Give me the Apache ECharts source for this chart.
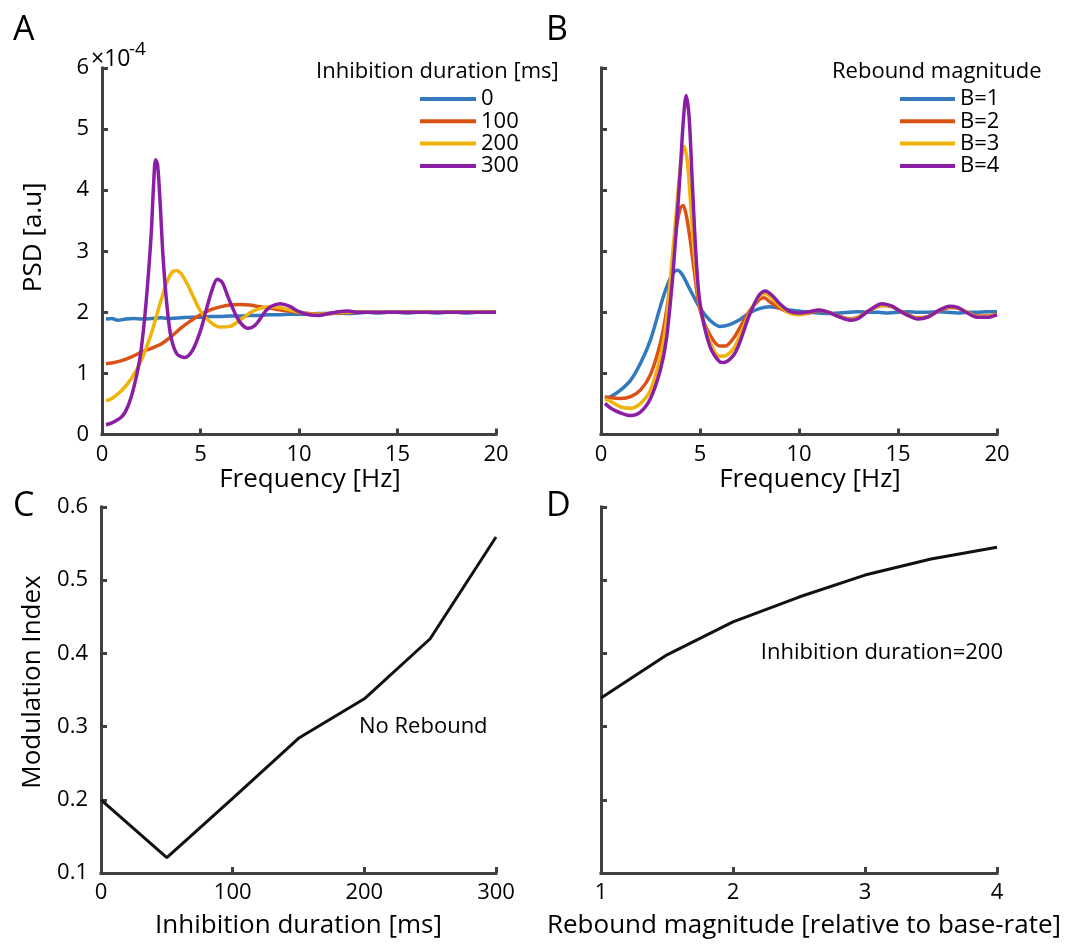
<!DOCTYPE html>
<html><head><meta charset="utf-8">
<script src="https://cdn.jsdelivr.net/npm/echarts@6/dist/echarts.min.js"></script>
<style>html,body{margin:0;padding:0;background:#fff}#c{width:1069px;height:944px}</style>
</head><body><div id="c"></div>
<script>
const FONT = '"Open Sans", sans-serif';

// ---------- Panel A: PSD vs frequency for inhibition durations (values in units of 1e-4) ----------
const durationNames = ['0', '100', '200', '300'];
const freqA0 = [0.2,0.5,0.8,1.2,1.6,2,2.5,3,3.5,4,4.5,5,5.5,6,6.5,7,7.5,8,8.5,9,9.5,10,10.5,11,11.5,12,12.5,13,13.5,14,14.5,15,15.5,16,16.5,17,17.5,18,18.5,19,19.5,20];
const psdA0  = [1.89,1.90,1.87,1.89,1.90,1.89,1.90,1.91,1.90,1.91,1.92,1.92,1.93,1.93,1.94,1.94,1.95,1.95,1.96,1.96,1.97,1.97,1.97,1.98,1.98,1.99,1.98,1.99,2.0,1.99,2.0,2.0,1.99,2.0,2.0,1.99,2.0,2.0,1.99,2.0,2.0,2.0];
const freqA1 = [0.2,0.5,1,1.5,2,2.5,3,3.5,4,4.5,5,5.5,6,6.5,7,7.5,8,8.5,9,9.5,10,10.5,11,12,13,14,15,16,17,18,19,20];
const psdA1  = [1.16,1.17,1.21,1.27,1.35,1.41,1.48,1.60,1.74,1.86,1.96,2.04,2.09,2.12,2.13,2.12,2.09,2.07,2.04,2.02,2.0,1.98,1.97,1.99,2.0,2.0,2.0,2.01,2.0,2.01,2.0,2.0];
const freqA2 = [0.2,0.5,1,1.5,2,2.5,3,3.3,3.6,3.8,4,4.3,4.6,5,5.5,6,6.5,7,7.5,8,8.5,9,9.5,10,10.5,11,11.5,12,13,14,15,16,17,18,19,20];
const psdA2  = [0.55,0.59,0.72,0.92,1.22,1.65,2.20,2.50,2.67,2.68,2.64,2.48,2.28,2.02,1.84,1.76,1.77,1.87,1.99,2.06,2.09,2.08,2.04,2.0,1.97,1.97,1.98,2.0,2.01,2.0,2.0,2.01,2.0,2.0,2.01,2.0];
const freqA3 = [0.2,0.5,1,1.3,1.6,1.9,2.1,2.3,2.5,2.62,2.72,2.82,2.95,3.1,3.3,3.5,3.8,4.2,4.6,5,5.3,5.6,5.85,6.1,6.4,6.8,7.1,7.4,7.7,8.0,8.3,8.6,9.05,9.5,10,10.5,11,11.5,12,12.5,13,14,15,16,17,18,19,20];
const psdA3  = [0.16,0.19,0.29,0.45,0.75,1.20,1.70,2.40,3.30,4.10,4.50,4.42,3.80,2.90,2.10,1.60,1.32,1.26,1.38,1.70,2.05,2.38,2.54,2.49,2.25,1.95,1.80,1.74,1.77,1.88,2.02,2.10,2.14,2.10,2.01,1.96,1.95,1.98,2.01,2.02,2.0,2.0,2.0,2.0,2.0,2.0,2.0,2.0];

// ---------- Panel B: PSD vs frequency for rebound magnitudes ----------
const reboundNames = ['B=1', 'B=2', 'B=3', 'B=4'];
const freqB1 = [0.2,0.5,1,1.5,2,2.5,3,3.3,3.6,3.85,4.1,4.5,5,5.5,6,6.5,7,7.5,8,8.5,9,9.5,10,10.5,11,11.5,12,12.5,13,13.5,14,14.5,15,15.5,16,16.5,17,17.5,18,18.5,19,19.5,20];
const psdB1  = [0.58,0.62,0.73,0.89,1.17,1.55,2.10,2.40,2.62,2.69,2.62,2.37,2.07,1.87,1.77,1.80,1.88,1.99,2.06,2.09,2.07,2.04,2.02,2.0,1.99,1.98,1.99,2.0,2.01,2.0,2.0,1.99,2.0,2.01,2.0,2.0,2.01,2.0,1.99,2.0,2.0,2.01,2.01];
const freqB2 = [0.2,0.5,1,1.5,2,2.5,3,3.3,3.6,3.8,4.0,4.15,4.3,4.5,4.7,5,5.5,6,6.3,6.7,7,7.5,8,8.25,8.5,9,9.5,10,10.5,11,11.5,12,12.6,13,13.5,14.2,14.7,15,15.5,16,16.5,17,17.6,18,18.5,19,19.5,20];
const psdB2  = [0.62,0.60,0.59,0.62,0.73,0.98,1.50,2.00,2.75,3.36,3.70,3.75,3.60,3.20,2.70,2.04,1.63,1.45,1.45,1.58,1.74,2.02,2.21,2.24,2.18,2.07,2.0,1.97,1.99,2.03,2.0,1.94,1.89,1.92,2.02,2.11,2.09,2.04,1.96,1.91,1.93,2.01,2.08,2.07,2.0,1.94,1.94,1.97];
const freqB3 = [0.2,0.5,1,1.5,2,2.5,3,3.3,3.6,3.8,4.0,4.2,4.35,4.5,4.7,5,5.5,6,6.3,6.7,7,7.5,8,8.3,8.7,9,9.5,10,10.5,11,11.5,12,12.6,13,13.5,14.2,14.7,15,15.5,16,16.5,17,17.6,18,18.5,19,19.5,20];
const psdB3  = [0.58,0.54,0.45,0.43,0.51,0.73,1.28,1.85,2.90,3.63,4.35,4.72,4.50,3.90,3.00,2.10,1.52,1.28,1.29,1.41,1.61,1.99,2.26,2.31,2.21,2.11,1.99,1.96,2.0,2.04,2.0,1.93,1.88,1.91,2.02,2.12,2.10,2.04,1.95,1.90,1.92,2.02,2.09,2.08,2.0,1.93,1.93,1.96];
const freqB4 = [0.2,0.5,1,1.5,2,2.5,3,3.3,3.6,3.8,4.0,4.15,4.3,4.45,4.6,4.8,5,5.5,6,6.2,6.7,7,7.5,8,8.3,8.7,9,9.5,10,10.5,11,11.5,12,12.6,13,13.5,14.2,14.7,15,15.5,16,16.5,17,17.6,18,18.5,19,19.5,20];
const psdB4  = [0.51,0.43,0.35,0.31,0.37,0.59,1.06,1.55,2.50,3.36,4.30,5.10,5.55,5.20,4.20,2.92,2.15,1.44,1.19,1.18,1.30,1.50,1.96,2.29,2.35,2.26,2.15,2.02,1.99,2.01,2.04,2.0,1.93,1.87,1.90,2.02,2.14,2.10,2.04,1.95,1.89,1.92,2.02,2.10,2.08,1.99,1.92,1.92,1.96];

// ---------- Panel C: modulation index vs inhibition duration ----------
const durationsC = [0, 50, 100, 150, 200, 250, 300];
const modIndexC  = [0.200, 0.121, 0.202, 0.284, 0.338, 0.420, 0.559];

// ---------- Panel D: modulation index vs rebound magnitude ----------
const reboundD  = [1, 1.5, 2, 2.5, 3, 3.5, 4];
const modIndexD = [0.339, 0.398, 0.443, 0.477, 0.507, 0.529, 0.545];

// ---------- tick labels ----------
const freqTicks = [0, 5, 10, 15, 20];
const psdTicks = [0, 1, 2, 3, 4, 5, 6];
const durTicks = [0, 100, 200, 300];
const miTicks = [0.1, 0.2, 0.3, 0.4, 0.5, 0.6];
const rebTicks = [1, 2, 3, 4];

const COLORS = ['#3279BD', '#DA5216', '#F0B30A', '#8A1FA6'];
const AX = '#404040';

function zip(xs, ys) { return xs.map((x, i) => [x, ys[i]]); }

function axis(type, ticks, showLabel, extra) {
  const step = ticks[1] - ticks[0];
  return Object.assign({
    type: 'value',
    min: ticks[0], max: ticks[ticks.length - 1], interval: step,
    axisLine: { show: true, onZero: false, lineStyle: { color: AX, width: 3, cap: 'square' } },
    axisTick: { show: true, inside: true, length: 6, lineStyle: { color: AX, width: 3 } },
    axisLabel: {
      show: showLabel, color: '#000', fontSize: 22, fontFamily: FONT,
      margin: type === 'x' ? 9 : 13,
      formatter: v => (step < 1 ? v.toFixed(1) : String(Math.round(v)))
    },
    splitLine: { show: false }
  }, extra || {});
}

const nameStyle = { color: '#000', fontSize: 26, fontFamily: FONT };

const grids = [
  { left: 102, top: 68, width: 394, height: 366.5 },
  { left: 601, top: 68, width: 396, height: 366.5 },
  { left: 101, top: 507, width: 395, height: 366 },
  { left: 601, top: 507, width: 396, height: 366 }
];

const xAxes = [
  axis('x', freqTicks, true, { gridIndex: 0, name: 'Frequency [Hz]', nameLocation: 'middle', nameGap: 30,
    nameTextStyle: Object.assign({ padding: [0, 0, 0, 22] }, nameStyle) }),
  axis('x', freqTicks, true, { gridIndex: 1, name: 'Frequency [Hz]', nameLocation: 'middle', nameGap: 30,
    nameTextStyle: Object.assign({ padding: [0, 0, 0, 22] }, nameStyle) }),
  axis('x', durTicks, true, { gridIndex: 2, name: 'Inhibition duration [ms]', nameLocation: 'middle', nameGap: 40,
    nameTextStyle: Object.assign({}, nameStyle) }),
  axis('x', rebTicks, true, { gridIndex: 3, name: 'Rebound magnitude [relative to base-rate]', nameLocation: 'middle', nameGap: 40,
    nameTextStyle: Object.assign({ padding: [0, 0, 0, 10] }, nameStyle) })
];
const yAxes = [
  axis('y', psdTicks, true, { gridIndex: 0, name: 'PSD [a.u]', nameLocation: 'middle', nameGap: 55,
    nameTextStyle: Object.assign({ padding: [0, 0, 0, 28] }, nameStyle) }),
  axis('y', psdTicks, false, { gridIndex: 1 }),
  axis('y', miTicks, true, { gridIndex: 2, name: 'Modulation Index', nameLocation: 'middle', nameGap: 55,
    nameTextStyle: Object.assign({ padding: [0, 0, 0, 16] }, nameStyle) }),
  axis('y', miTicks, false, { gridIndex: 3 })
];

function psdSeries(name, xs, ys, idx, color) {
  return {
    name, type: 'line', xAxisIndex: idx, yAxisIndex: idx,
    data: zip(xs, ys), smooth: 0.3, symbol: 'none', showSymbol: false,
    lineStyle: { width: 3.5, color }, itemStyle: { color }, animation: false
  };
}

const series = [
  psdSeries(durationNames[0], freqA0, psdA0, 0, COLORS[0]),
  psdSeries(durationNames[1], freqA1, psdA1, 0, COLORS[1]),
  psdSeries(durationNames[2], freqA2, psdA2, 0, COLORS[2]),
  psdSeries(durationNames[3], freqA3, psdA3, 0, COLORS[3]),
  psdSeries(reboundNames[0], freqB1, psdB1, 1, COLORS[0]),
  psdSeries(reboundNames[1], freqB2, psdB2, 1, COLORS[1]),
  psdSeries(reboundNames[2], freqB3, psdB3, 1, COLORS[2]),
  psdSeries(reboundNames[3], freqB4, psdB4, 1, COLORS[3]),
  { name: 'MI vs duration', type: 'line', xAxisIndex: 2, yAxisIndex: 2, data: zip(durationsC, modIndexC),
    symbol: 'none', lineStyle: { width: 3, color: '#111' }, animation: false },
  { name: 'MI vs rebound', type: 'line', xAxisIndex: 3, yAxisIndex: 3, data: zip(reboundD, modIndexD),
    symbol: 'none', lineStyle: { width: 3, color: '#111' }, animation: false }
];

function legendCfg(names, left, w) {
  return {
    data: names, orient: 'vertical', left, top: 88, padding: 0,
    itemWidth: w, itemHeight: 4, itemGap: 0.3, icon: 'rect', selectedMode: false,
    textStyle: { fontSize: 22, lineHeight: 22, fontFamily: FONT, color: '#000' }
  };
}

function txt(text, x, y, size, align) {
  return { type: 'text', x, y, silent: true,
    style: { text, fontSize: size, fontFamily: FONT, fill: '#000', align: align || 'left', verticalAlign: 'middle' } };
}

const chart = echarts.init(document.getElementById('c'), null, { renderer: 'canvas' });
chart.setOption({
  backgroundColor: '#fff',
  animation: false,
  grid: grids,
  xAxis: xAxes,
  yAxis: yAxes,
  legend: [legendCfg(durationNames, 420, 56), legendCfg(reboundNames, 900, 55)],
  series,
  graphic: [
    txt('A', 13, 30, 34), txt('B', 546, 30, 34), txt('C', 13, 506, 34), txt('D', 546, 506, 34),
    txt('×10', 91, 59, 23), txt('-4', 129, 50, 19),
    txt('Inhibition duration [ms]', 316, 72, 22),
    txt('Rebound magnitude', 832, 72, 22),
    txt('No Rebound', 359, 727, 22),
    txt('Inhibition duration=200', 1003, 653, 22, 'right')
  ]
});
</script></body></html>
